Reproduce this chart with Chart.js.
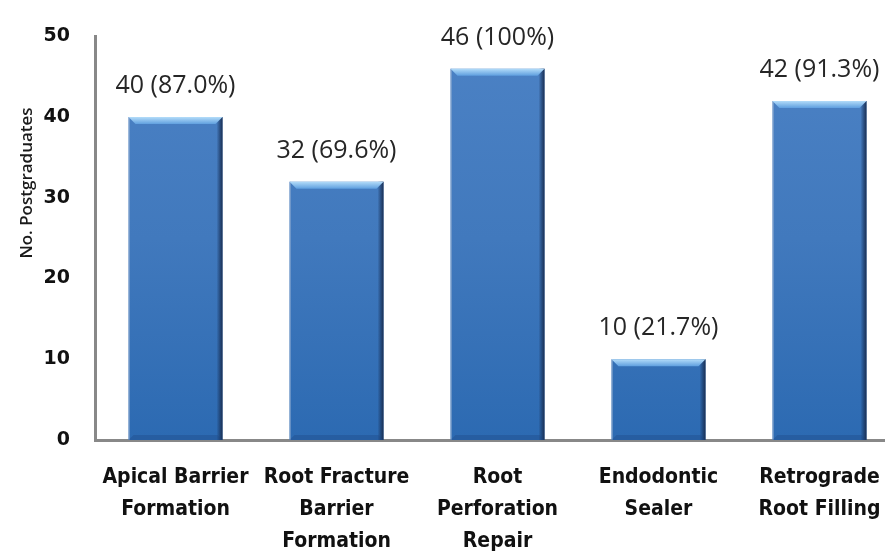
<!DOCTYPE html>
<html>
<head>
<meta charset="utf-8">
<script src="https://cdn.jsdelivr.net/npm/chart.js@4/dist/chart.umd.min.js"></script>
<style>
  html, body { margin: 0; padding: 0; background: #fff; overflow: hidden; }
  #wrap { width: 885px; height: 553px; }
</style>
</head>
<body>
<div id="wrap"><canvas id="chart" width="885" height="553"></canvas></div>
<script>
// Chart data
const categories = [
    ['Apical Barrier', 'Formation'],
    ['Root Fracture', 'Barrier', 'Formation'],
    ['Root', 'Perforation', 'Repair'],
    ['Endodontic', 'Sealer'],
    ['Retrograde', 'Root Filling']
];
const counts = [40, 32, 46, 10, 42];
const percents = ['87.0%', '69.6%', '100%', '21.7%', '91.3%'];
const yTicks = [0, 10, 20, 30, 40, 50];
const yTitle = 'No. Postgraduates';

// the plot area of the reference is cut at the right edge: the last slot is not complete
const xMin = -0.5;
const xMax = 4.407;

// bevel / shading on top of each bar, using the bar elements Chart.js laid out
const barShading = {
    id: 'barShading',
    afterDatasetsDraw(chart) {
        const ctx = chart.ctx;
        chart.getDatasetMeta(0).data.forEach(bar => {
            const left = bar.x - bar.width / 2;
            const right = bar.x + bar.width / 2;
            const top = bar.y;
            const bottom = bar.base;
            const h = bottom - top;
            ctx.save();

            // right dark edge
            let g = ctx.createLinearGradient(right - 6, 0, right, 0);
            g.addColorStop(0, 'rgba(25,50,90,0)');
            g.addColorStop(0.5, 'rgba(25,50,90,0.55)');
            g.addColorStop(1, '#1b2f52');
            ctx.fillStyle = g;
            ctx.fillRect(right - 6, top, 6, h);

            // left light edge
            ctx.fillStyle = 'rgba(150,175,210,0.55)';
            ctx.fillRect(left, top, 1.5, h);

            // top bevel
            g = ctx.createLinearGradient(0, top, 0, top + 7);
            g.addColorStop(0, '#b3dcf9');
            g.addColorStop(1, '#5f9fdf');
            ctx.fillStyle = g;
            ctx.beginPath();
            ctx.moveTo(left, top);
            ctx.lineTo(right, top);
            ctx.lineTo(right - 7, top + 7);
            ctx.lineTo(left + 7, top + 7);
            ctx.closePath();
            ctx.fill();

            // bottom bevel
            ctx.fillStyle = 'rgba(30,70,130,0.35)';
            ctx.beginPath();
            ctx.moveTo(left, bottom);
            ctx.lineTo(right, bottom);
            ctx.lineTo(right - 5, bottom - 5);
            ctx.lineTo(left + 5, bottom - 5);
            ctx.closePath();
            ctx.fill();
            ctx.restore();
        });
    }
};

// value labels above bars + rotated y title
const valueLabels = {
    id: 'valueLabels',
    afterDraw(chart) {
        const ctx = chart.ctx;
        ctx.save();
        ctx.font = '25px "Open Sans", "Noto Sans", sans-serif';
        ctx.fillStyle = '#262626';
        ctx.textAlign = 'center';
        ctx.textBaseline = 'alphabetic';
        chart.getDatasetMeta(0).data.forEach((bar, i) => {
            ctx.fillText(`${counts[i]} (${percents[i]})`, bar.x, bar.y - 24);
        });

        ctx.translate(27, 183);
        ctx.rotate(-Math.PI / 2);
        ctx.font = '600 17px "Open Sans", "Noto Sans", sans-serif';
        ctx.fillStyle = '#1a1a1a';
        ctx.textBaseline = 'middle';
        ctx.fillText(yTitle, 0, 0);
        ctx.restore();
    }
};

function barFill(context) {
    const chart = context.chart;
    const area = chart.chartArea;
    if (!area) return '#3b76bc';
    const g = chart.ctx.createLinearGradient(0, area.top, 0, area.bottom);
    g.addColorStop(0, '#4c82c5');
    g.addColorStop(0.5, '#4179bd');
    g.addColorStop(1, '#2c6ab2');
    return g;
}

new Chart(document.getElementById('chart'), {
    type: 'bar',
    data: {
        datasets: [{
            data: counts.map((v, i) => ({ x: i, y: v })),
            backgroundColor: barFill,
            borderWidth: 0,
            categoryPercentage: 1,
            barPercentage: 0.584
        }]
    },
    options: {
        responsive: false,
        animation: false,
        layout: { padding: { top: 28, left: 0, right: 0, bottom: 0 } },
        scales: {
            x: {
                type: 'linear',
                min: xMin,
                max: xMax,
                offset: false,
                grid: { display: false, drawTicks: false },
                border: { display: true, color: '#888888', width: 3 },
                ticks: {
                    stepSize: 1,
                    includeBounds: false,
                    color: '#111',
                    padding: 22,
                    maxRotation: 0,
                    autoSkip: false,
                    callback: v => categories[v] || '',
                    font: { family: '"Liberation Sans Narrow", "DejaVu Sans Condensed", sans-serif', size: 21, weight: 'bold', lineHeight: 1.52 }
                },
                afterFit(scale) {
                    scale.height = 113;
                    // labels fit inside the canvas, no extra side padding needed
                    scale.paddingLeft = 0;
                    scale.paddingRight = 0;
                }
            },
            y: {
                min: yTicks[0],
                max: yTicks[yTicks.length - 1],
                grid: { display: false, drawTicks: false },
                border: { display: true, color: '#888888', width: 3 },
                afterBuildTicks(scale) { scale.ticks = yTicks.map(v => ({ value: v })); },
                ticks: {
                    color: '#111',
                    padding: 25,
                    font: { family: '"DejaVu Sans", sans-serif', size: 19, weight: 'bold' }
                },
                afterFit(scale) { scale.width = 95; }
            }
        },
        plugins: {
            legend: { display: false },
            tooltip: { enabled: false }
        }
    },
    plugins: [barShading, valueLabels]
});
</script>
</body>
</html>
